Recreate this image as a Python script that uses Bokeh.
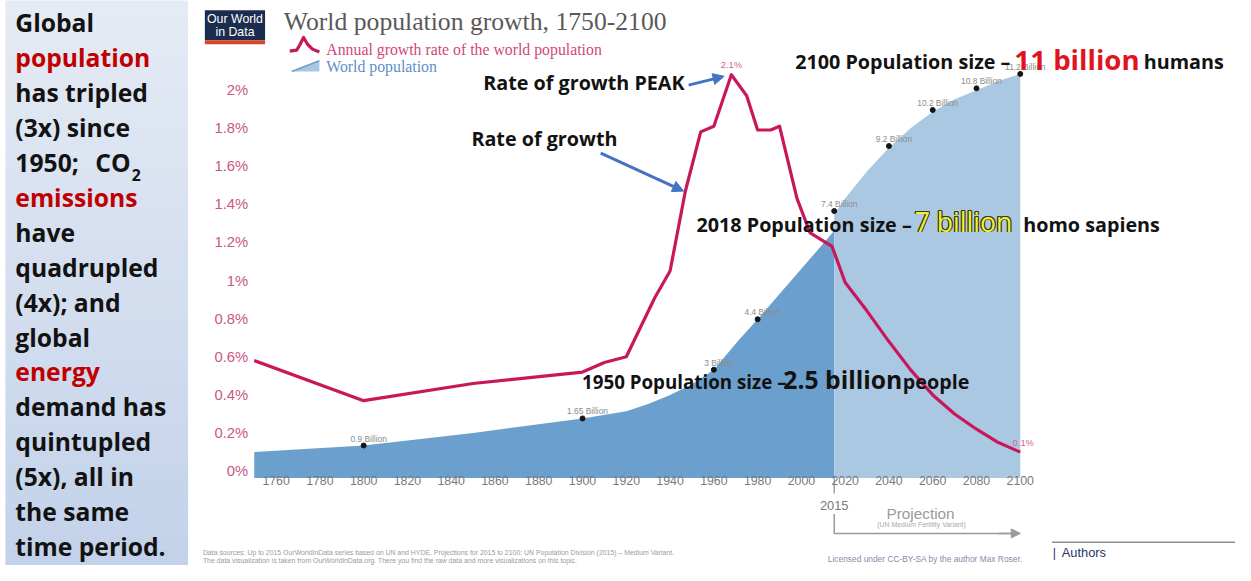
from bokeh.plotting import figure
from bokeh.models import (Range1d, LinearAxis, FixedTicker, CustomJSTickFormatter,
                          Arrow, NormalHead)
from bokeh.core.properties import value
from bokeh.embed import file_html
from bokeh.resources import INLINE

# ---------------- data ----------------
rate_years = [1750, 1800, 1850, 1900, 1910, 1920, 1933, 1940, 1947, 1954, 1960, 1968,
              1975, 1980, 1986, 1990, 1998, 2004, 2014, 2020, 2030, 2040, 2050, 2060,
              2070, 2080, 2090, 2100]
rate_pct = [0.58, 0.37, 0.46, 0.52, 0.57, 0.60, 0.91, 1.05, 1.47, 1.78, 1.81, 2.08,
            1.97, 1.79, 1.79, 1.81, 1.43, 1.25, 1.18, 0.99, 0.84, 0.68, 0.53, 0.40,
            0.30, 0.22, 0.15, 0.10]

pop_hist_years = [1750, 1800, 1850, 1900, 1920, 1930, 1940, 1950, 1960, 1971, 1980,
                  1990, 2000, 2010, 2015]
pop_hist = [0.72, 0.90, 1.25, 1.65, 1.85, 2.05, 2.30, 2.60, 3.00, 3.80, 4.40,
            5.10, 5.80, 6.50, 6.85]

pop_proj_years = [2015, 2020, 2030, 2040, 2050, 2060, 2070, 2080, 2090, 2100]
pop_proj = [7.30, 7.75, 8.50, 9.15, 9.70, 10.15, 10.50, 10.75, 11.00, 11.20]

dot_years = [1800, 1900, 1960, 1980, 2015, 2040, 2060, 2080, 2100]
dot_pop = [0.9, 1.65, 3.0, 4.4, 7.4, 9.2, 10.2, 10.8, 11.2]
dot_labels = ["0.9 Billion", "1.65 Billion", "3 Billion", "4.4 Billion", "7.4 Billion",
              "9.2 Billion", "10.2 Billion", "10.8 Billion", "11.2 Billion"]

peak_year, peak_rate, peak_label = 1968, 2.08, "2.1%"
end_year, end_rate, end_label = 2100, 0.10, "0.1%"
projection_start = 2015

x_ticks = [1760, 1780, 1800, 1820, 1840, 1860, 1880, 1900, 1920, 1940, 1960, 1980,
           2000, 2020, 2040, 2060, 2080, 2100]
y_ticks = [0, 0.2, 0.4, 0.6, 0.8, 1.0, 1.2, 1.4, 1.6, 1.8, 2.0]
y_tick_labels = ["0%", "0.2%", "0.4%", "0.6%", "0.8%", "1%", "1.2%", "1.4%", "1.6%",
                 "1.8%", "2%"]

left_lines = ["Global", "population", "has tripled", "(3x) since", "1950;",
              "emissions", "have", "quadrupled", "(4x); and", "global", "energy",
              "demand has", "quintupled", "(5x), all in", "the same", "time period."]
left_red = {"population", "emissions", "energy"}

# ---------------- geometry: canvas represents the 1251x581 reference ----------------
FW, FH = 1235, 565
REF_W, REF_H = 1251, 581
FS = FW / REF_W                   # font scale
XPX = 2.2171                      # reference px per year
X0 = 1750 - 257 / XPX
X1 = X0 + REF_W / XPX
RPX = 196.0                       # reference px per 1 %
Y1 = 484 / RPX
Y0 = Y1 - REF_H / RPX
PPX = 37.1                        # reference px per billion
P1 = 491 / PPX
P0 = P1 - REF_H / PPX


def fx(ix):
    return X0 + ix / XPX


def fy(iy):
    return Y1 - iy / RPX


def fs(size):
    return f"{size * FS:.2f}px"


p = figure(width=FW, height=FH, x_range=Range1d(X0, X1), y_range=Range1d(Y0, Y1),
           x_axis_type=None, y_axis_type=None, toolbar_location=None,
           output_backend="svg", min_border=0, outline_line_color=None,
           background_fill_color="white", border_fill_color="white")
p.title.visible = False
p.extra_y_ranges = {"pop": Range1d(P0, P1)}


def txt(ix, iy, s, size, color, font="Open Sans", style="bold", align="left",
        baseline="middle"):
    p.text(x=[fx(ix)], y=[fy(iy)], text=[s], text_font=value(font),
           text_font_size=fs(size), text_font_style=style, text_color=color,
           text_align=align, text_baseline=baseline)


def on_base(ix, base, s, size, color, style="bold"):
    # centre a mixed-size segment so that all segments share the baseline `base`
    txt(ix, base - 0.39 * size, s, size, color, style=style)


# ---------------- left panel ----------------
N = 40
top_c = (229, 235, 244)
bot_c = (195, 210, 234)
for i in range(N):
    t = i / (N - 1)
    c = tuple(int(round(top_c[k] + (bot_c[k] - top_c[k]) * t)) for k in range(3))
    col = "#%02x%02x%02x" % c
    p.quad(left=[fx(5)], right=[fx(190)], top=[fy(i * REF_H / N - 1)],
           bottom=[fy((i + 1) * REF_H / N + 1)], fill_color=col, line_color=None)

for i, s in enumerate(left_lines):
    col = "#c00000" if s in left_red else "#121212"
    txt(15, 23 + i * 35.9, s, 25, col)
txt(96, 23 + 4 * 35.9, "CO", 25, "#121212")
txt(133, 179, "2", 16, "#121212")

# ---------------- population areas ----------------
p.varea(x=pop_hist_years, y1=0, y2=pop_hist, fill_color="#6ba0ce", y_range_name="pop")
p.varea(x=pop_proj_years, y1=0, y2=pop_proj, fill_color="#abc8e3", y_range_name="pop")

# ---------------- growth-rate line ----------------
p.line(rate_years, rate_pct, line_color="#c8175b", line_width=3.2, line_join="round")

# ---------------- population dots ----------------
p.scatter(dot_years, dot_pop, size=5, color="#151515", y_range_name="pop")
p.text(x=dot_years, y=dot_pop, text=dot_labels, y_range_name="pop",
       text_font=value("Liberation Sans"), text_font_size=fs(8.5), text_color="#8c8c8c",
       text_align="center", text_baseline="middle", x_offset=5, y_offset=-7)

p.text(x=[peak_year], y=[peak_rate], text=[peak_label], text_font=value("Liberation Sans"),
       text_font_size=fs(9.5), text_color="#d0648e", text_align="center",
       text_baseline="middle", y_offset=-10)
p.text(x=[end_year], y=[end_rate], text=[end_label], text_font=value("Liberation Sans"),
       text_font_size=fs(9.5), text_color="#d0648e", text_align="center",
       text_baseline="middle", x_offset=3, y_offset=-9)

# ---------------- axes ----------------
xaxis = LinearAxis(fixed_location=0, ticker=FixedTicker(ticks=x_ticks),
                   axis_line_color=None, major_tick_line_color=None,
                   minor_tick_line_color=None, major_tick_out=0, major_tick_in=0,
                   major_label_standoff=5,
                   major_label_text_font="Liberation Sans",
                   major_label_text_font_size=fs(12.5),
                   major_label_text_color="#7a7a7a")
p.add_layout(xaxis, "below")

fmt = CustomJSTickFormatter(args=dict(tick_vals=y_ticks, tick_text=y_tick_labels), code="""
const i = tick_vals.findIndex((t) => Math.abs(t - tick) < 1e-6);
return i >= 0 ? tick_text[i] : '';
""")
yaxis = LinearAxis(fixed_location=1750, ticker=FixedTicker(ticks=y_ticks), formatter=fmt,
                   axis_line_color=None, major_tick_line_color=None,
                   minor_tick_line_color=None, major_tick_out=0, major_tick_in=0,
                   major_label_standoff=6,
                   major_label_text_font="Liberation Sans",
                   major_label_text_font_size=fs(15),
                   major_label_text_color="#c8578a")
p.add_layout(yaxis, "left")

# projection marker below the axis
p.segment(x0=[projection_start], y0=[fy(490)], x1=[projection_start], y1=[fy(507)],
          line_color="#8a8a8a", line_width=1.2)
p.text(x=[projection_start], y=[fy(519)], text=[str(projection_start)],
       text_font=value("Liberation Sans"), text_font_size=fs(13), text_color="#7a7a7a",
       text_align="center", text_baseline="middle")
p.line(x=[projection_start, projection_start, 2097], y=[fy(528), fy(548), fy(548)],
       line_color="#9a9a9a", line_width=1.5)
p.add_layout(Arrow(end=NormalHead(size=9, fill_color="#9a9a9a", line_color="#9a9a9a"),
                   x_start=2090, y_start=fy(548), x_end=2100, y_end=fy(548),
                   line_color="#9a9a9a", line_width=1.5))
txt(932, 528, "Projection", 15.5, "#9a9a9a", font="Liberation Sans", style="normal",
    align="center")
txt(933, 539, "(UN Medium Fertility Variant)", 7, "#aaaaaa", font="Liberation Sans",
    style="normal", align="center")

# ---------------- header: logo, title, legend ----------------
p.quad(left=[fx(207)], right=[fx(268)], top=[fy(10)], bottom=[fy(41)],
       fill_color="#1b2d4f", line_color=None)
p.quad(left=[fx(207)], right=[fx(268)], top=[fy(41)], bottom=[fy(45)],
       fill_color="#d8452c", line_color=None)
txt(237.5, 19, "Our World", 12.5, "white", font="Liberation Sans", style="normal",
    align="center")
txt(237.5, 32, "in Data", 12.5, "white", font="Liberation Sans", style="normal",
    align="center")

txt(287, 22, "World population growth, 1750-2100", 26, "#595959",
    font="Liberation Serif", style="normal")

ic_x = [293, 300, 303, 307, 311, 316, 323]
ic_y = [52, 51, 46, 38, 45, 50, 53]
p.line(x=[fx(v) for v in ic_x], y=[fy(v) for v in ic_y], line_color="#c8175b",
       line_width=3.2, line_join="round")
txt(330, 50, "Annual growth rate of the world population", 16, "#d2477a",
    font="Liberation Serif", style="normal")
p.patch(x=[fx(295), fx(323), fx(323)], y=[fy(73), fy(73), fy(62)],
        fill_color="#a9c6e4", line_color=None)
p.line(x=[fx(295), fx(323)], y=[fy(73), fy(62)], line_color="#6a9fcf", line_width=1.5)
txt(330, 68, "World population", 16, "#5d8fc6", font="Liberation Serif", style="normal")

# ---------------- annotations ----------------
BLK = "#121212"
txt(489, 84, "Rate of growth PEAK", 20, BLK)
txt(477, 142, "Rate of growth", 20, BLK)
blue = "#4472c4"
p.add_layout(Arrow(end=NormalHead(size=11, fill_color=blue, line_color=blue),
                   x_start=fx(697), y_start=fy(87), x_end=fx(733), y_end=fy(78),
                   line_color=blue, line_width=3))
p.add_layout(Arrow(end=NormalHead(size=11, fill_color=blue, line_color=blue),
                   x_start=fx(608), y_start=fy(157), x_end=fx(692), y_end=fy(196),
                   line_color=blue, line_width=3))

B1 = 63 + 0.39 * 20
on_base(805, B1, "2100 Population  size \u2013", 20, BLK)
on_base(1027, B1, "11 billion", 28, "#e0141e")
on_base(1158, B1, "humans", 20, BLK)

B2 = 230 + 0.39 * 20
on_base(705, B2, "2018 Population size \u2013", 20, BLK)
for dx, dy in [(-1, 0), (1, 0), (0, -1), (0, 1), (-1, -1), (1, 1), (1, -1), (-1, 1)]:
    on_base(926 + dx, B2 + dy, "7 billion", 27, "#3b3b05", style="normal")
on_base(926, B2, "7 billion", 27, "#f2ee3a", style="normal")
on_base(1036, B2, "homo sapiens", 20, BLK)

B3 = 392 + 0.39 * 19
on_base(589, B3, "1950 Population size \u2013", 19, BLK)
on_base(793, B3, "2.5 billion", 25, BLK)
on_base(914, B3, "people", 20, BLK)

# ---------------- footer ----------------
txt(205, 568, "Data sources:  Up to 2015 OurWorldInData series based on UN and HYDE. "
    "Projections for 2015 to 2100: UN Population Division (2015) \u2013 Medium Variant.",
    7, "#9a9a9a", font="Liberation Sans", style="normal")
txt(205, 576, "The data visualization is taken from OurWorldinData.org. There you find "
    "the raw data and more visualizations on this topic.",
    7, "#9a9a9a", font="Liberation Sans", style="normal")
txt(838, 574, "Licensed under CC-BY-SA by the author Max Roser.", 8.5, "#8a8aa8",
    font="Liberation Sans", style="normal")
p.line(x=[fx(1065), fx(1251)], y=[fy(557), fy(557)], line_color="#555555", line_width=1)
txt(1066, 568, "|", 12.5, "#1f3864", font="Liberation Sans", style="normal")
txt(1075, 568, "Authors", 13, "#1f3864", font="Liberation Sans", style="normal")

open("out.html", "w").write(file_html(p, INLINE))
